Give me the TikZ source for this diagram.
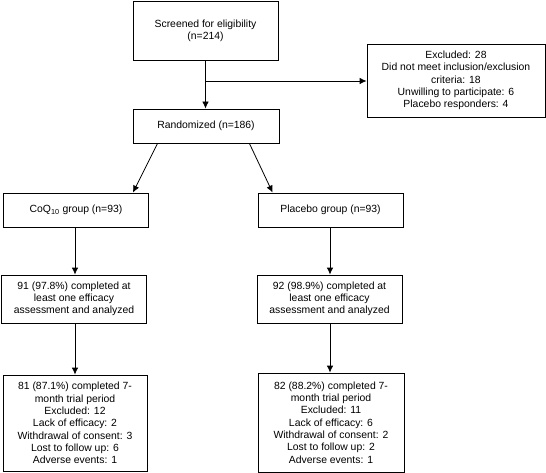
\documentclass[tikz,border=0pt]{standalone}
\usepackage{fontspec}
\setmainfont{Liberation Sans}
\usetikzlibrary{arrows.meta}

\begin{document}
\begin{tikzpicture}[x=1pt, y=-1pt,
  every node/.style={rectangle, draw=black, line width=0.8pt, align=center,
    inner sep=2pt, font=\fontsize{10.4}{12.3}\selectfont},
  flow/.style={draw=black, line width=0.8pt, -{Latex[length=7pt, width=6.5pt]}}
]
\useasboundingbox (0,0) rectangle (546,473);

% Boxes WITH TEXT
\node[minimum width=145pt, minimum height=59pt] (screen) at (205.5,30.5)
  {Screened for eligibility\\(n=214)};
\node[minimum width=178pt, minimum height=73pt] (excl) at (456,80.5)
  {Excluded: 28\\Did not meet inclusion/exclusion\\criteria: 18\\Unwilling to participate: 6\\Placebo responders: 4};
\node[minimum width=146pt, minimum height=34pt] (rand) at (206,126)
  {Randomized (n=186)};

\node[minimum width=145pt, minimum height=34pt] (coq) at (76,210)
  {CoQ\textsubscript{10} group (n=93)};
\node[minimum width=145pt, minimum height=34pt] (plac) at (330.5,210)
  {Placebo group (n=93)};

\node[minimum width=145pt, minimum height=48pt] (coqA) at (74,299)
  {91 (97.8\%) completed at\\least one efficacy\\assessment and analyzed};
\node[minimum width=145pt, minimum height=48pt] (placA) at (329.5,299)
  {92 (98.9\%) completed at\\least one efficacy\\assessment and analyzed};

\node[minimum width=144pt, minimum height=96pt] (coqB) at (75,423)
  {81 (87.1\%) completed 7-\\month trial period\\Excluded: 12\\Lack of efficacy: 2\\Withdrawal of consent: 3\\Lost to follow up: 6\\Adverse events: 1};
\node[minimum width=146pt, minimum height=99pt] (placB) at (331,422.5)
  {82 (88.2\%) completed 7-\\month trial period\\Excluded: 11\\Lack of efficacy: 6\\Withdrawal of consent: 2\\Lost to follow up: 2\\Adverse events: 1};

\coordinate (branch) at (205.5,81);

% ---- Edges ----
\draw[flow] (screen.south -| branch) -- (rand.north -| branch);
\draw[flow] (branch) -- (excl.west |- branch);

\draw[flow] ([xshift=25pt]rand.south west) -- ([xshift=-16pt]coq.north east);
\draw[flow] ([xshift=-30pt]rand.south east) -- ([xshift=15pt]plac.north west);

\draw[flow] (coq.south -| 75,0) -- (coqA.north -| 75,0);
\draw[flow] (coqA.south -| 75,0) -- (coqB.north -| 75,0);
\draw[flow] (plac.south -| 330,0) -- (placA.north -| 330,0);
\draw[flow] (placA.south -| 330,0) -- (placB.north -| 330,0);

\end{tikzpicture}
\end{document}
